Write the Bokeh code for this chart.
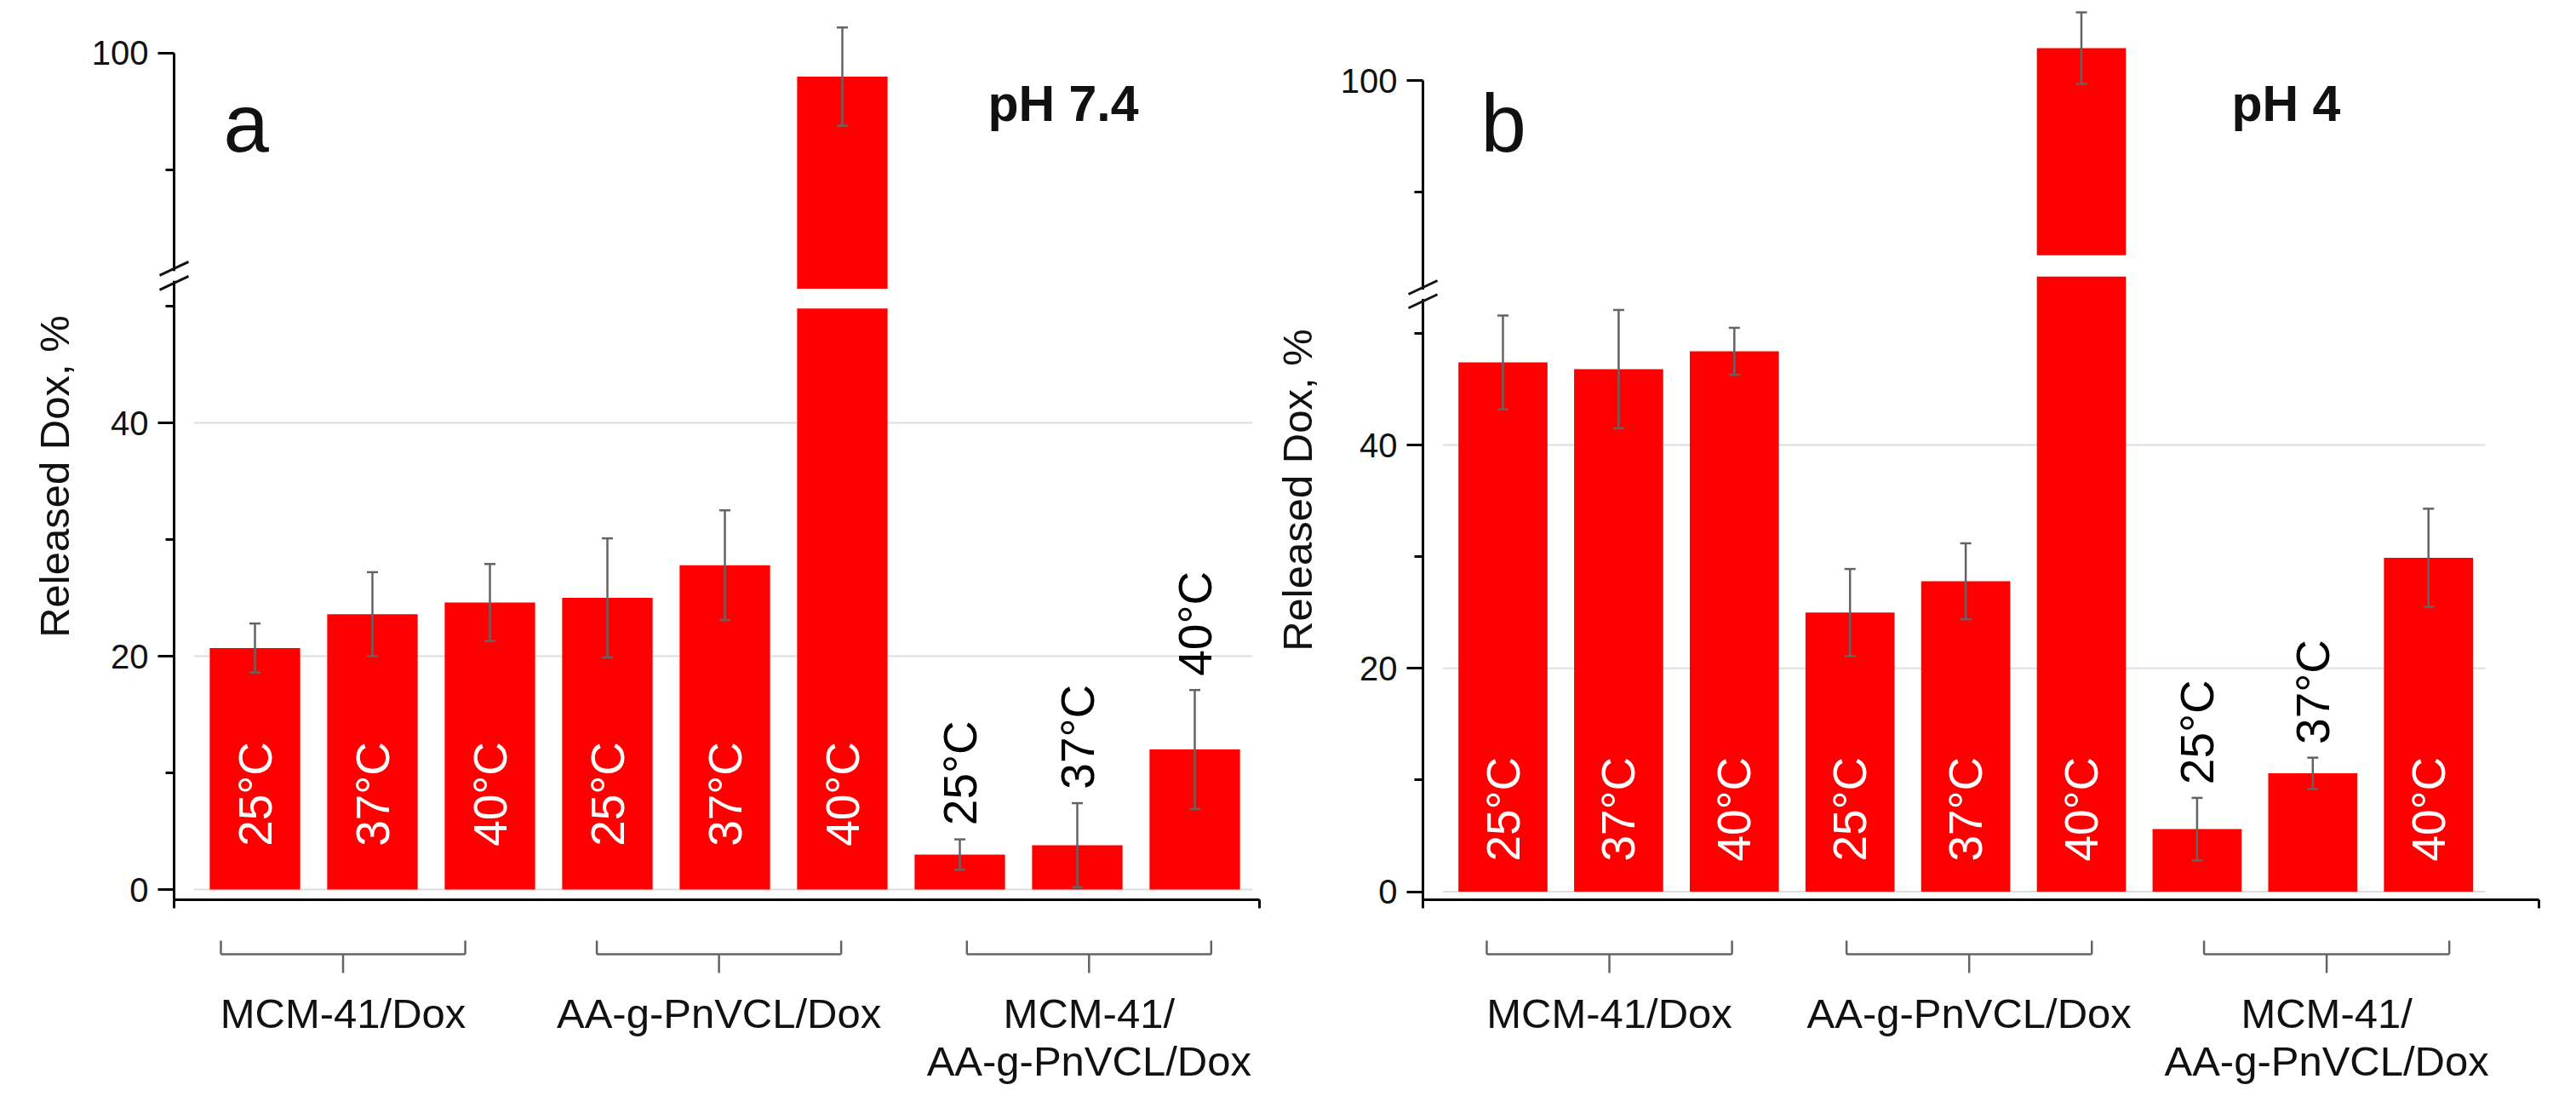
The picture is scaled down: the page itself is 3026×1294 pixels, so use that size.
import math

from bokeh.core.properties import value
from bokeh.embed import file_html
from bokeh.layouts import row
from bokeh.models import (Arrow, BoxAnnotation, ColumnDataSource, CustomJSTickFormatter,
                          FixedTicker, Label, Range1d)
from bokeh.plotting import figure
from bokeh.resources import INLINE

# data
temps = ["25°C", "37°C", "40°C"] * 3
groups = [["MCM-41/Dox"], ["AA-g-PnVCL/Dox"], ["MCM-41/", "AA-g-PnVCL/Dox"]]

release_ph74 = [20.7, 23.6, 24.6, 25.0, 27.8, 98.0, 3.0, 3.8, 12.0]
error_ph74 = [2.1, 3.6, 3.3, 5.1, 4.7, 4.2, 1.3, 3.6, 5.1]
release_ph4 = [47.4, 46.8, 48.4, 25.0, 27.8, 102.9, 5.6, 10.6, 29.9]
error_ph4 = [4.2, 5.3, 2.1, 3.9, 3.4, 3.2, 2.8, 1.4, 4.4]

y_major = [0, 20, 40, 100]
y_minor = [10, 30, 50, 90]
grid_values = [0, 20, 40]

FONT = "Liberation Sans"
RED = "#ff0000"
GREY = "#646464"
INK = "#111111"
PAGE_TOP, AXIS_Y, PAGE_BOTTOM = 8, 1064, 1286


def make_panel(letter, title, vals, errs, lay):
    # lay holds page pixel geometry of the panel
    ppx, ppy = lay["ppu_x"], lay["ppu_y"]
    off = lay["off"]

    def tr(v):
        # broken axis: upper segment is shifted down by off
        return v if v <= 60 else v - off

    def yp(page_y):
        return (lay["zero_y"] - page_y) / ppy

    def xp(page_x):
        return (page_x - lay["bar0_x"]) / ppx

    right_page = lay["page_left"] + lay["width"]
    p = figure(width=lay["width"], height=PAGE_BOTTOM - PAGE_TOP,
               x_range=Range1d(xp(lay["page_left"]), xp(right_page)),
               y_range=Range1d(yp(PAGE_BOTTOM), yp(PAGE_TOP)),
               output_backend="svg", toolbar_location=None, min_border=0)
    p.outline_line_color = None
    p.xgrid.visible = False
    p.ygrid.visible = False

    ax0, ax1, ay0 = xp(lay["axis_x"]), xp(lay["right_x"]), yp(AXIS_Y)
    xs = list(range(len(vals)))

    p.segment(x0=-0.52, x1=8.49, y0=grid_values, y1=grid_values,
              line_color="#dedede", line_width=2, level="underlay")

    bx, bb, bt = [], [], []
    for i, v in enumerate(vals):
        if v > 60:
            bx += [i, i]
            bb += [0, lay["gap"][1]]
            bt += [lay["gap"][0], tr(v)]
        else:
            bx.append(i)
            bb.append(0)
            bt.append(v)
    p.vbar(x=bx, bottom=bb, top=bt, width=0.77, fill_color=RED, line_color=None)

    hi = [tr(v + e) for v, e in zip(vals, errs)]
    lo = [tr(v - e) for v, e in zip(vals, errs)]
    cap = 6.5 / ppx
    p.segment(x0=xs, x1=xs, y0=lo, y1=hi, line_color=GREY, line_width=2.5)
    p.segment(x0=[x - cap for x in xs], x1=[x + cap for x in xs], y0=hi, y1=hi,
              line_color=GREY, line_width=2.5)
    p.segment(x0=[x - cap for x in xs], x1=[x + cap for x in xs], y0=lo, y1=lo,
              line_color=GREY, line_width=2.5)

    inside = [v > 15 for v in vals]
    ly = [lay["in_pad"] if ins else h + 1.2 for ins, h in zip(inside, hi)]
    lc = ["white" if ins else "black" for ins in inside]
    p.text(x=xs, y=ly, text=temps, angle=math.pi / 2, text_align="left",
           text_baseline="middle", text_color=lc, text_font=value(FONT),
           text_font_size="55px")

    ya = p.yaxis[0]
    ya.fixed_location = ax0
    ya.ticker = FixedTicker(ticks=[tr(t) for t in y_major], minor_ticks=[tr(t) for t in y_minor])
    ya.formatter = CustomJSTickFormatter(args=dict(off=off),
                                         code="return String(Math.round(tick > 60 ? tick + off : tick))")
    ya.bounds = (ay0, tr(100))
    ya.axis_line_width = 3
    ya.major_tick_line_width = 3
    ya.minor_tick_line_width = 3
    ya.major_tick_in = 0
    ya.major_tick_out = 19
    ya.minor_tick_in = 0
    ya.minor_tick_out = 10
    ya.major_label_text_font = FONT
    ya.major_label_text_font_size = "40px"
    ya.major_label_text_color = INK
    ya.major_label_standoff = 11

    xa = p.xaxis[0]
    xa.fixed_location = ay0
    xa.bounds = (ax0, ax1)
    xa.ticker = FixedTicker(ticks=[ax0 + 0.003, ax1 - 0.003])
    xa.formatter = CustomJSTickFormatter(code="return ''")
    xa.axis_line_width = 3
    xa.major_tick_line_width = 3
    xa.major_tick_in = 0
    xa.major_tick_out = 10
    xa.minor_tick_out = 0
    xa.minor_tick_in = 0

    # y axis title, centred on the drawn axis line
    p.text(x=[xp(lay["label_x"])], y=[(ay0 + tr(100)) / 2], text=["Released Dox, %"],
           angle=math.pi / 2, text_align="center", text_baseline="alphabetic",
           text_color=INK, text_font=value(FONT), text_font_size="49px")

    # axis break on the y axis
    bm = lay["brk_mid"]
    p.add_layout(BoxAnnotation(left=ax0 - 7 / ppx, right=ax0 + 7 / ppx, bottom=bm - 0.42,
                               top=bm + 0.42, fill_color="white", fill_alpha=1,
                               line_color=None, level="annotation"))
    dxm, dym = 17 / ppx, 8 / ppy
    marks = ColumnDataSource(dict(
        xa=[ax0 - dxm, ax0 - dxm], ya=[bm - 0.62 - dym, bm + 0.62 - dym],
        xb=[ax0 + dxm, ax0 + dxm], yb=[bm - 0.62 + dym, bm + 0.62 + dym]))
    p.add_layout(Arrow(end=None, source=marks, x_start="xa", y_start="ya", x_end="xb",
                       y_end="yb", line_color=INK, line_width=3, level="annotation"))

    # group brackets and names below the axis
    y_top, y_h, y_stem = yp(1112), yp(1128), yp(1150)
    half = lay["bracket_half"]
    sx0, sy0, sx1, sy1 = [], [], [], []
    for g, lines in enumerate(groups):
        xm = 3 * g + 1 + lay["bracket_shift"][g]
        xl, xr = xm - half, xm + half
        for (a0, b0), (a1, b1) in [((xl, y_top), (xl, y_h)), ((xl, y_h), (xr, y_h)),
                                   ((xr, y_h), (xr, y_top)), ((xm, y_h), (xm, y_stem))]:
            sx0.append(a0)
            sy0.append(b0)
            sx1.append(a1)
            sy1.append(b1)
        for k, line in enumerate(lines):
            p.add_layout(Label(x=xm, y=yp(1197 + 56 * k), text=line, text_align="center",
                               text_baseline="alphabetic", text_font=FONT,
                               text_font_size="49px", text_color=INK))
    p.segment(x0=sx0, y0=sy0, x1=sx1, y1=sy1, line_color=GREY, line_width=2.5)

    p.add_layout(Label(x=xp(lay["letter_x"]), y=yp(152), text=letter, text_align="left",
                       text_baseline="alphabetic", text_font=FONT, text_font_size="96px",
                       text_color=INK))
    p.add_layout(Label(x=xp(lay["ph_x"]), y=yp(129), text=title, text_align="left",
                       text_baseline="alphabetic", text_font=FONT, text_font_size="59px",
                       text_font_style="bold", text_color=INK))
    return p


lay_a = dict(page_left=8, width=1482, axis_x=212, right_x=1487, bar0_x=307, ppu_x=138.0,
             zero_y=1052, ppu_y=13.7, off=28.32, gap=(49.8, 51.5), brk_mid=52.6,
             in_pad=3.7, letter_x=270, ph_x=1168, label_x=71,
             bracket_shift=[-0.25, -0.05, 0.1], bracket_half=1.04)
lay_b = dict(page_left=1490, width=1528, axis_x=1679, right_x=2990, bar0_x=1773, ppu_x=135.9,
             zero_y=1054.5, ppu_y=13.11, off=27.35, gap=(55.1, 57.0), brk_mid=53.5,
             in_pad=2.7, letter_x=1747, ph_x=2629, label_x=1531,
             bracket_shift=[-0.08, 0.03, 0.12], bracket_half=1.06)

pa = make_panel("a", "pH 7.4", release_ph74, error_ph74, lay_a)
pb = make_panel("b", "pH 4", release_ph4, error_ph4, lay_b)

layout = row(pa, pb)
open("out.html", "w").write(file_html(layout, INLINE))
